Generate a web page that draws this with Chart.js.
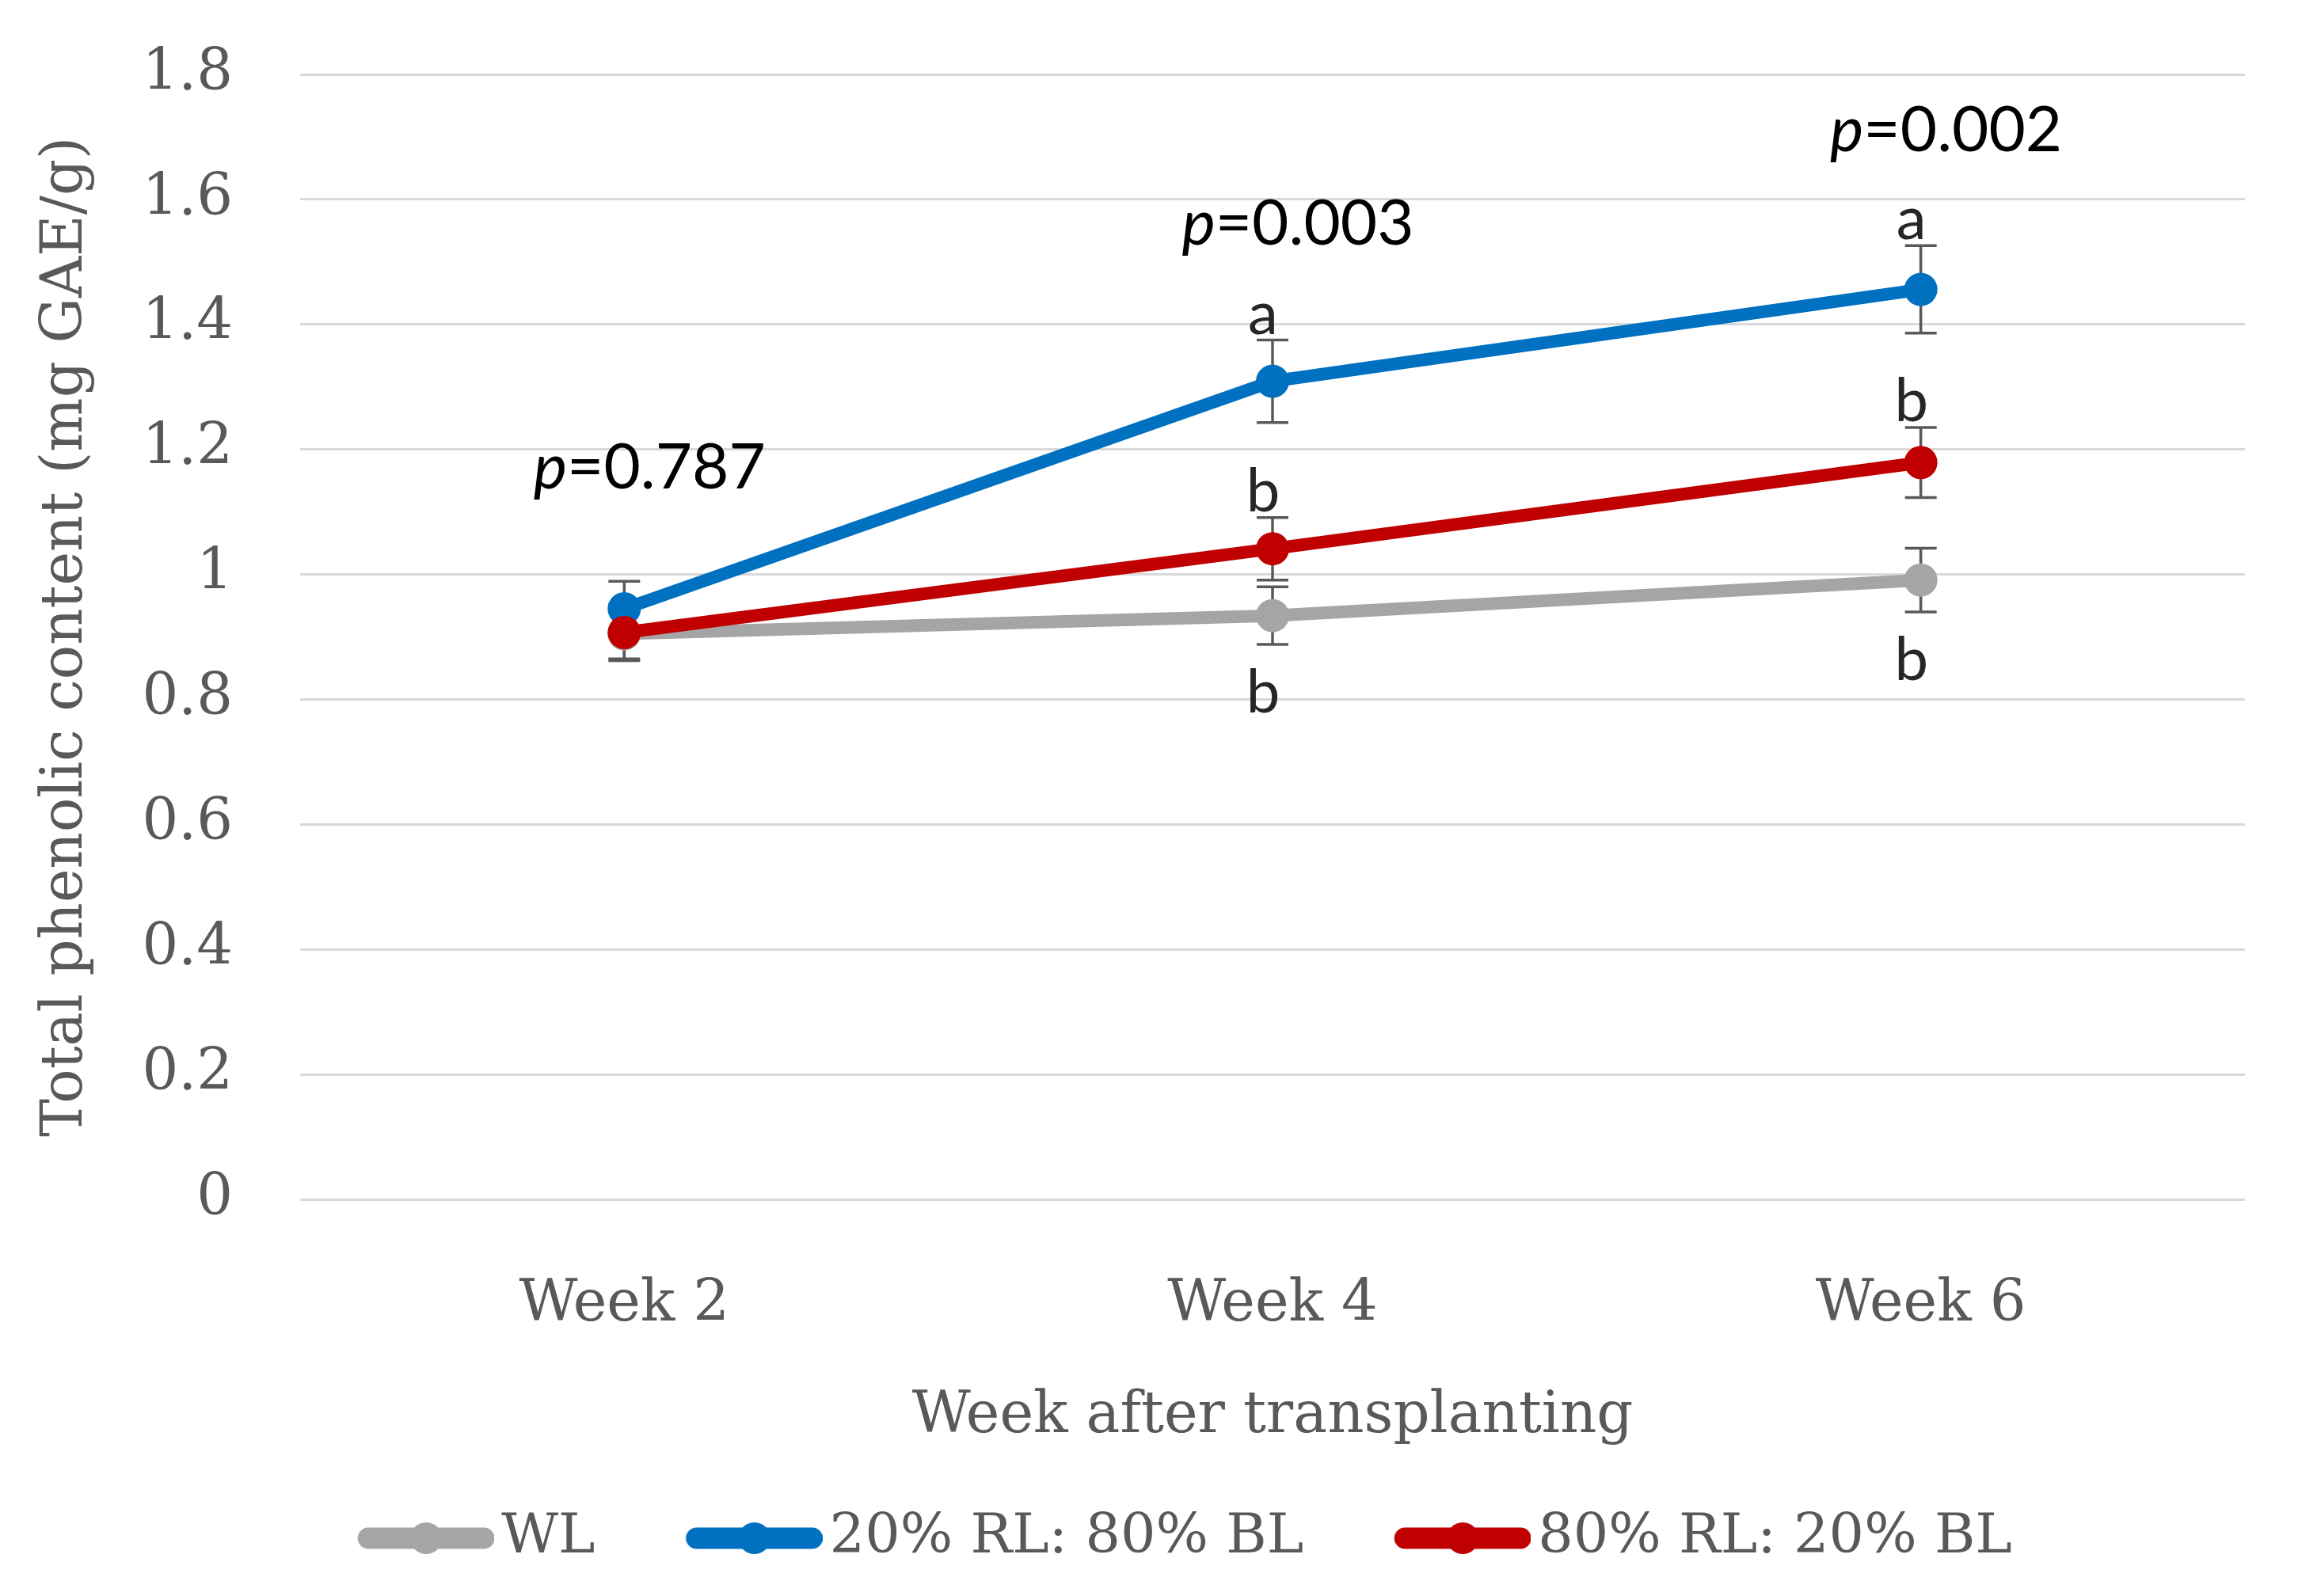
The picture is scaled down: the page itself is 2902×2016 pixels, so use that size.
<!DOCTYPE html>
<html>
<head>
<meta charset="utf-8">
<script src="https://cdn.jsdelivr.net/npm/chart.js@4.4.1/dist/chart.umd.min.js"></script>
<style>
  html, body { margin: 0; padding: 0; background: #fff; }
  #wrap { width: 2902px; height: 2016px; }
</style>
</head>
<body>
<div id="wrap"><canvas id="chart" width="2902" height="2016"></canvas></div>
<script>
// data
const weeks = ['Week 2', 'Week 4', 'Week 6'];
const seriesNames = ['WL', '20% RL: 80% BL', '80% RL: 20% BL'];
const wlMean = [0.905, 0.934, 0.991];
const wlErr = [0.04, 0.046, 0.051];
const rbMean = [0.945, 1.309, 1.456];
const rbErr = [0.044, 0.066, 0.07];
const brMean = [0.907, 1.041, 1.179];
const brErr = [0.045, 0.05, 0.056];
const wlLetters = ['', 'b', 'b'];
const rbLetters = ['', 'a', 'a'];
const brLetters = ['', 'b', 'b'];
const pValues = ['0.787', '0.003', '0.002'];
const pLabelY = [1.17, 1.56, 1.71];
const yTicks = [0, 0.2, 0.4, 0.6, 0.8, 1, 1.2, 1.4, 1.6, 1.8];

const colors = ['#A5A5A5', '#0070C0', '#C00000'];
const serif = "'DejaVu Serif'";
const sans = "Lato, 'Open Sans', sans-serif";
const textGray = '#595959';

// legend symbol: line with a dot, drawn into a small canvas
function legendSymbol(color) {
  const w = 292, h = 64, start = 120;
  const c = document.createElement('canvas');
  c.width = w; c.height = h;
  const g = c.getContext('2d');
  g.strokeStyle = color;
  g.lineWidth = 27;
  g.lineCap = 'round';
  g.beginPath();
  g.moveTo(start + 13, h / 2);
  g.lineTo(w - 13, h / 2);
  g.stroke();
  g.fillStyle = color;
  g.beginPath();
  g.arc((start + w) / 2, h / 2, 20, 0, Math.PI * 2);
  g.fill();
  return c;
}

const errs = [wlErr, rbErr, brErr];
const letters = [wlLetters, rbLetters, brLetters];
const letterBelow = [true, false, false];

const extras = {
  id: 'extras',
  beforeDatasetsDraw(chart) {
    const ctx = chart.ctx;
    const y = chart.scales.y;
    ctx.save();
    ctx.strokeStyle = '#595959';
    ctx.lineWidth = 3.5;
    chart.data.datasets.forEach((ds, i) => {
      const meta = chart.getDatasetMeta(i);
      meta.data.forEach((pt, j) => {
        const top = y.getPixelForValue(ds.data[j] + errs[i][j]);
        const bot = y.getPixelForValue(ds.data[j] - errs[i][j]);
        ctx.beginPath();
        ctx.moveTo(pt.x, top); ctx.lineTo(pt.x, bot);
        ctx.moveTo(pt.x - 20, top); ctx.lineTo(pt.x + 20, top);
        ctx.moveTo(pt.x - 20, bot); ctx.lineTo(pt.x + 20, bot);
        ctx.stroke();
      });
    });
    ctx.restore();
  },
  afterDatasetsDraw(chart) {
    const ctx = chart.ctx;
    const x = chart.scales.x;
    const y = chart.scales.y;
    ctx.save();
    // significance letters
    ctx.fillStyle = '#262626';
    ctx.font = '76px ' + sans;
    ctx.textAlign = 'center';
    chart.data.datasets.forEach((ds, i) => {
      const meta = chart.getDatasetMeta(i);
      meta.data.forEach((pt, j) => {
        const txt = letters[i][j];
        if (!txt) return;
        if (letterBelow[i]) {
          ctx.textBaseline = 'top';
          ctx.fillText(txt, pt.x - 12, y.getPixelForValue(ds.data[j] - errs[i][j]) + 24);
        } else {
          ctx.textBaseline = 'alphabetic';
          ctx.fillText(txt, pt.x - 12, y.getPixelForValue(ds.data[j] + errs[i][j]) - 8);
        }
      });
    });
    // p values
    ctx.fillStyle = '#000';
    ctx.textBaseline = 'middle';
    ctx.textAlign = 'left';
    pValues.forEach((p, j) => {
      const rest = '=' + p;
      ctx.font = 'italic 80px ' + sans;
      const wp = ctx.measureText('p').width;
      ctx.font = '80px ' + sans;
      const wr = ctx.measureText(rest).width;
      const cx = x.getPixelForValue(j) + 32;
      const cy = y.getPixelForValue(pLabelY[j]);
      const left = cx - (wp + wr) / 2;
      ctx.font = 'italic 80px ' + sans;
      ctx.fillText('p', left, cy);
      ctx.font = '80px ' + sans;
      ctx.fillText(rest, left + wp, cy);
    });
    ctx.restore();
  }
};

const datasets = [wlMean, rbMean, brMean].map((vals, i) => ({
  label: seriesNames[i],
  data: vals,
  borderColor: colors[i],
  backgroundColor: colors[i],
  borderWidth: 16,
  pointRadius: 21,
  pointBorderWidth: 0,
  pointBackgroundColor: colors[i],
  tension: 0,
  order: 3 - i
}));

new Chart(document.getElementById('chart'), {
  type: 'line',
  data: { labels: weeks, datasets },
  plugins: [extras],
  options: {
    responsive: false,
    animation: false,
    devicePixelRatio: 1,
    layout: { padding: { top: 94, right: 67, bottom: 28, left: 64 } },
    plugins: {
      tooltip: { enabled: false },
      legend: {
        position: 'bottom',
        labels: {
          usePointStyle: true,
          pointStyleWidth: 240,
          padding: 21,
          color: textGray,
          font: { family: serif, size: 70 },
          sort: (a, b) => a.datasetIndex - b.datasetIndex,
          generateLabels(chart) {
            return chart.data.datasets.map((ds, i) => ({
              text: ds.label,
              datasetIndex: i,
              pointStyle: legendSymbol(colors[i]),
              fillStyle: colors[i],
              strokeStyle: colors[i],
              lineWidth: 0,
              fontColor: textGray,
              hidden: false
            }));
          }
        }
      }
    },
    scales: {
      x: {
        offset: true,
        grid: { display: false, drawTicks: false },
        border: { display: false },
        ticks: { color: textGray, font: { family: serif, size: 72 }, padding: 91 },
        title: {
          display: true,
          text: 'Week after transplanting',
          color: textGray,
          font: { family: serif, size: 72 },
          padding: { top: 0, bottom: 54 }
        },
        afterFit(s) { s.height = 372; }
      },
      y: {
        min: 0,
        max: 1.8,
        afterBuildTicks(s) { s.ticks = yTicks.map(v => ({ value: v })); },
        grid: { color: '#D9D9D9', lineWidth: 3, drawTicks: false },
        border: { display: false },
        ticks: {
          color: textGray,
          font: { family: serif, size: 72 },
          padding: 85,
          callback: v => String(+v.toFixed(1))
        },
        title: {
          display: true,
          text: 'Total phenolic content (mg GAE/g)',
          color: textGray,
          font: { family: serif, size: 72 },
          padding: { top: -23, bottom: 0 }
        },
        afterFit(s) {
          s.width = 315;
          s.paddingTop = 0;
          s.paddingBottom = 0;
        }
      }
    }
  }
});
</script>
</body>
</html>
